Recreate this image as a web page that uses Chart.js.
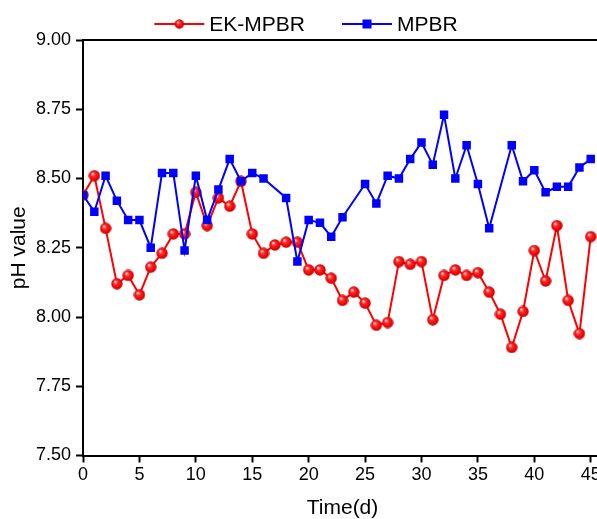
<!DOCTYPE html>
<html>
<head>
<meta charset="utf-8">
<script src="https://cdn.jsdelivr.net/npm/chart.js@4/dist/chart.umd.min.js"></script>
<style>
  html, body { margin: 0; padding: 0; background: #fff; overflow: hidden; }
  #wrap { width: 597px; height: 519px; overflow: hidden; }
</style>
</head>
<body>
<div id="wrap"><canvas id="chart" width="610" height="519"></canvas></div>
<script>
const days = [0, 1, 2, 3, 4, 5, 6, 7, 8, 9, 10, 11, 12, 13, 14, 15, 16, 17, 18, 19, 20, 21, 22,
  23, 24, 25, 26, 27, 28, 29, 30, 31, 32, 33, 34, 35, 36, 37, 38, 39, 40, 41, 42, 43, 44, 45];
const ekMpbr = [8.44, 8.51, 8.32, 8.12, 8.15, 8.08, 8.18, 8.23, 8.30, 8.30,
  8.45, 8.33, 8.43, 8.40, 8.49, 8.30, 8.23, 8.26, 8.27, 8.27,
  8.17, 8.17, 8.14, 8.06, 8.09, 8.05, 7.97, 7.98, 8.20, 8.19,
  8.20, 7.99, 8.15, 8.17, 8.15, 8.16, 8.09, 8.01, 7.89, 8.02,
  8.24, 8.13, 8.33, 8.06, 7.94, 8.29];
const mpbr = [8.44, 8.38, 8.51, 8.42, 8.35, 8.35, 8.25, 8.52, 8.52, 8.24,
  8.51, 8.35, 8.46, 8.57, 8.49, 8.52, 8.50, null, 8.43, 8.20,
  8.35, 8.34, 8.29, 8.36, null, 8.48, 8.41, 8.51, 8.50, 8.57,
  8.63, 8.55, 8.73, 8.50, 8.62, 8.48, 8.32, null, 8.62, 8.49,
  8.53, 8.45, 8.47, 8.47, 8.54, 8.57];
const seriesNames = ['EK-MPBR', 'MPBR'];
const xTicks = [0, 5, 10, 15, 20, 25, 30, 35, 40, 45];
const yTicks = [7.50, 7.75, 8.00, 8.25, 8.50, 8.75, 9.00];

const FONT = "'Liberation Sans', Arial, sans-serif";
const RED = '#ff0000';
const BLUE = '#0000ff';

// shaded red ball used as the EK-MPBR marker
function makeBall(size) {
  const c = document.createElement('canvas');
  c.width = size;
  c.height = size;
  const g = c.getContext('2d');
  const r = size / 2;
  const grad = g.createRadialGradient(r * 0.7, r * 0.65, 0.5, r, r, r);
  grad.addColorStop(0, '#ffd0d0');
  grad.addColorStop(0.3, '#ff2a2a');
  grad.addColorStop(0.8, '#e60000');
  grad.addColorStop(1, '#b00000');
  g.fillStyle = grad;
  g.beginPath();
  g.arc(r, r, r - 0.3, 0, Math.PI * 2);
  g.fill();
  return c;
}
const ball = makeBall(12);

function toPoints(values) {
  return days.map((d, i) => ({ x: d, y: values[i] }));
}

// top/right frame of the plot box
const frame = {
  id: 'frame',
  afterDatasetsDraw(chart) {
    const { ctx, chartArea: a } = chart;
    ctx.save();
    ctx.strokeStyle = '#000';
    ctx.lineWidth = 2;
    ctx.beginPath();
    ctx.moveTo(a.left, a.top);
    ctx.lineTo(a.right, a.top);
    ctx.lineTo(a.right, a.bottom);
    ctx.stroke();
    ctx.restore();
  }
};

// legend with line + marker samples, like the original plot
const lineLegend = {
  id: 'lineLegend',
  afterDraw(chart, args, opts) {
    const { ctx } = chart;
    const sample = 50, gap = 5, itemGap = 37;
    ctx.save();
    ctx.font = `${opts.size}px ${FONT}`;
    ctx.textBaseline = 'middle';
    const items = chart.data.datasets.map((ds) => ({ ds, w: ctx.measureText(ds.label).width }));
    const total = items.reduce((s, it) => s + sample + gap + it.w, 0) + itemGap * (items.length - 1);
    let x = opts.centerX - total / 2;
    const y = opts.y;
    items.forEach(({ ds, w }) => {
      ctx.strokeStyle = ds.borderColor;
      ctx.lineWidth = 2;
      ctx.beginPath();
      ctx.moveTo(x, y);
      ctx.lineTo(x + sample, y);
      ctx.stroke();
      const cx = x + sample / 2;
      if (ds.pointStyle === 'rect') {
        ctx.fillStyle = ds.borderColor;
        ctx.fillRect(cx - 4.5, y - 4.5, 9, 9);
      } else {
        ctx.drawImage(ball, cx - 5, y - 5, 10, 10);
      }
      ctx.fillStyle = '#000';
      ctx.fillText(ds.label, x + sample + gap, y + 1);
      x += sample + gap + w + itemGap;
    });
    ctx.restore();
  }
};

new Chart(document.getElementById('chart'), {
  type: 'line',
  data: {
    datasets: [
      {
        label: seriesNames[0],
        data: toPoints(ekMpbr),
        borderColor: RED,
        backgroundColor: RED,
        borderWidth: 2,
        pointStyle: ball,
        pointRadius: 6,
        order: 2
      },
      {
        label: seriesNames[1],
        data: toPoints(mpbr),
        borderColor: BLUE,
        backgroundColor: BLUE,
        borderWidth: 2,
        pointStyle: 'rect',
        pointRadius: 6,
        pointBorderWidth: 0,
        spanGaps: true,
        order: 1
      }
    ]
  },
  options: {
    responsive: false,
    animation: false,
    devicePixelRatio: 1,
    layout: { padding: { top: 40, left: 2, right: 0, bottom: 0 } },
    plugins: {
      legend: { display: false },
      tooltip: { enabled: false },
      lineLegend: { centerX: 306, y: 24, size: 21 }
    },
    scales: {
      x: {
        type: 'linear',
        min: 0,
        max: 46,
        afterBuildTicks: (axis) => { axis.ticks = xTicks.map((v) => ({ value: v })); },
        grid: { drawOnChartArea: false, drawTicks: true, tickLength: 7, tickWidth: 2, tickColor: '#000' },
        border: { color: '#000', width: 2 },
        ticks: { color: '#000', padding: 4, font: { family: FONT, size: 18, lineHeight: 1.0 } },
        title: { display: true, text: 'Time(d)', color: '#000', padding: { top: 9.5, bottom: 0 }, font: { family: FONT, size: 21, lineHeight: 1.0 } }
      },
      y: {
        min: 7.5,
        max: 9.0,
        afterBuildTicks: (axis) => { axis.ticks = yTicks.map((v) => ({ value: v })); },
        grid: { drawOnChartArea: false, drawTicks: true, tickLength: 7, tickWidth: 2, tickColor: '#000' },
        border: { color: '#000', width: 2 },
        ticks: { color: '#000', padding: 5, font: { family: FONT, size: 18 }, callback: (v) => v.toFixed(2) },
        title: { display: true, text: 'pH value', color: '#000', padding: { top: 7, bottom: 1 }, font: { family: FONT, size: 21, lineHeight: 1.0 } }
      }
    }
  },
  plugins: [frame, lineLegend]
});
</script>
</body>
</html>
